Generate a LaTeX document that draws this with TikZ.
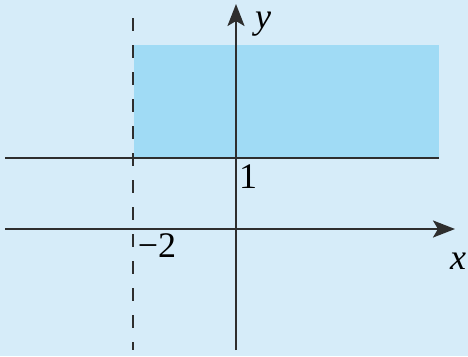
\documentclass[tikz,border=0pt]{standalone}
\usepackage{fontspec}
\setmainfont{Liberation Serif}
\usetikzlibrary{arrows.meta}
\definecolor{bgblue}{HTML}{D6ECF9}
\definecolor{regionblue}{HTML}{A0DBF5}
\definecolor{axisgray}{HTML}{2E2E2E}
\tikzset{
  axisline/.style={draw=axisgray, line width=2.6pt},
  axisarrow/.style={axisline, -{Stealth[length=22pt,width=17pt,inset=5pt]}},
  bound/.style={draw=axisgray, line width=2.8pt, dash pattern=on 13pt off 14pt},
  lbl/.style={font=\fontsize{36}{36}\selectfont, inner sep=0pt, text=black}
}
\begin{document}
\begin{tikzpicture}[x=1pt,y=-1pt]
\useasboundingbox (0,0) rectangle (468,356);
\fill[bgblue] (0,0) rectangle (468,356);
% region
\fill[regionblue] (134,45) rectangle (439,158);
% coordinates
\coordinate (xl) at (5,229);
\coordinate (xr) at (455,229);
\coordinate (yb) at (236,350);
\coordinate (yt) at (236,4);
\coordinate (hl) at (5,158);
\coordinate (hr) at (439,158);
\coordinate (dt) at (133,18);
\coordinate (db) at (133,350);
% lines
\draw[axisline] (hl) -- (hr);
\draw[bound] (dt) -- (db);
\draw[axisarrow] (xl) -- (xr);
\draw[axisarrow] (yb) -- (yt);
% labels
\node[lbl] (ylab) at (263,24) {\itshape y};
\node[lbl] (xlab) at (458,261) {\itshape x};
\node[lbl] (one) at (248,177) {1};
\node[lbl] (mtwo) at (157,246) {−2};
\end{tikzpicture}
\end{document}
